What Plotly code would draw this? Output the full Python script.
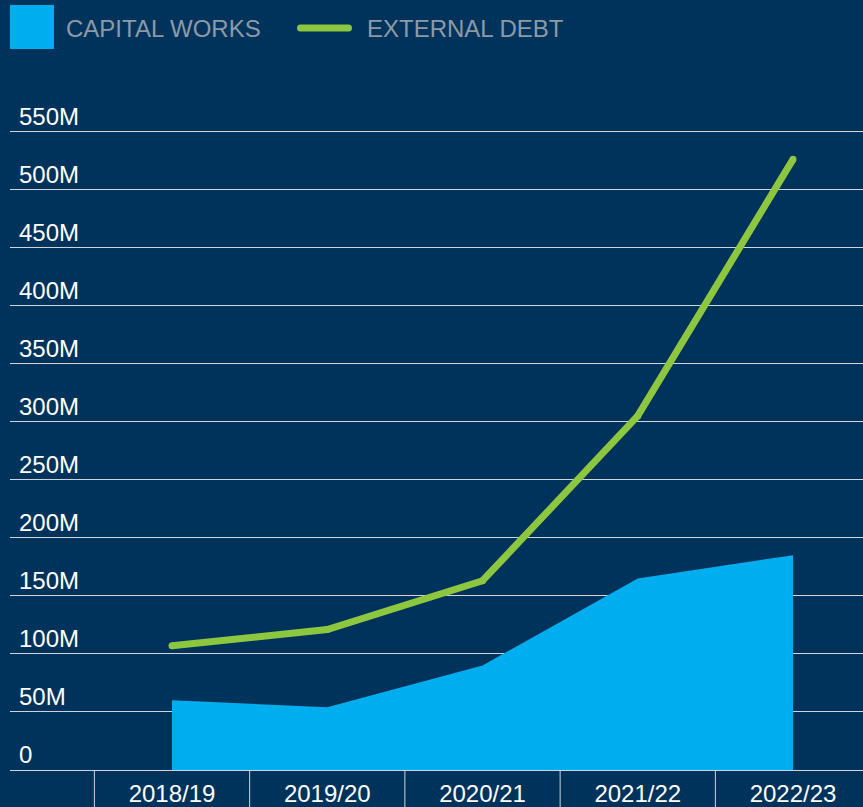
import plotly.graph_objects as go

# ---- data ----
categories = ["2018/19", "2019/20", "2020/21", "2021/22", "2022/23"]
capital_works = [60, 54, 90, 165, 185]        # millions
external_debt = [107, 121, 163, 305, 526]     # millions
y_tick_values = [0, 50, 100, 150, 200, 250, 300, 350, 400, 450, 500, 550]
y_tick_labels = ["0", "50M", "100M", "150M", "200M", "250M", "300M",
                 "350M", "400M", "450M", "500M", "550M"]
legend_names = ["CAPITAL WORKS", "EXTERNAL DEBT"]

# ---- style ----
BG = "#00335B"
BLUE = "#00AEEF"
GREEN = "#8DC63F"
GRID = "#CCD4DD"
LEGEND_TXT = "#8C9AA8"
FONT = "Liberation Sans, Arial, sans-serif"

W, H = 863, 807
ML, MR, MT, MB = 10, 0, 100, 37
PW, PH = W - ML - MR, H - MT - MB


def px(x):
    return (x - ML) / PW


def py(y):
    return (H - MB - y) / PH


fig = go.Figure()
fig.add_trace(go.Scatter(
    x=categories, y=capital_works, mode="lines", fill="tozeroy",
    line=dict(width=0, color=BLUE), fillcolor=BLUE,
    name=legend_names[0], hoverinfo="skip", showlegend=False))
fig.add_trace(go.Scatter(
    x=categories, y=external_debt, mode="lines+markers",
    line=dict(width=7, color=GREEN), marker=dict(size=7, color=GREEN),
    name=legend_names[1], hoverinfo="skip", showlegend=False))

shapes = []
# category separators below the baseline
for i in range(len(categories)):
    shapes.append(dict(type="line", xref="x", yref="paper",
                       x0=i - 0.5, x1=i - 0.5, y0=0, y1=-MB / PH,
                       line=dict(color=GRID, width=1)))

# custom legend: blue square
shapes.append(dict(type="rect", xref="paper", yref="paper",
                   x0=px(10), x1=px(54), y0=py(49), y1=py(5),
                   fillcolor=BLUE, line=dict(width=0)))
# green rounded line sample
x0, x1, yt, yb, r = 297, 352, 24.5, 31.5, 3.5
ym = (yt + yb) / 2
path = (f"M {px(x0 + r)},{py(yt)} L {px(x1 - r)},{py(yt)} "
        f"Q {px(x1)},{py(yt)} {px(x1)},{py(ym)} "
        f"Q {px(x1)},{py(yb)} {px(x1 - r)},{py(yb)} "
        f"L {px(x0 + r)},{py(yb)} "
        f"Q {px(x0)},{py(yb)} {px(x0)},{py(ym)} "
        f"Q {px(x0)},{py(yt)} {px(x0 + r)},{py(yt)} Z")
shapes.append(dict(type="path", xref="paper", yref="paper", path=path,
                   fillcolor=GREEN, line=dict(width=0)))

annotations = []
for v, lab in zip(y_tick_values, y_tick_labels):
    annotations.append(dict(x=0, y=v, xref="paper", yref="y", text=lab,
                            showarrow=False, xanchor="left", yanchor="bottom",
                            xshift=7, yshift=0,
                            font=dict(family=FONT, size=24, color="white")))
annotations.append(dict(x=px(64), y=py(28), xref="paper", yref="paper",
                        text=legend_names[0], showarrow=False,
                        xanchor="left", yanchor="middle",
                        font=dict(family=FONT, size=24, color=LEGEND_TXT)))
annotations.append(dict(x=px(365), y=py(28), xref="paper", yref="paper",
                        text=legend_names[1], showarrow=False,
                        xanchor="left", yanchor="middle",
                        font=dict(family=FONT, size=24, color=LEGEND_TXT)))

# x range so that category centres land at 172 + 155.25*i px
c0, step = 172.0, 155.25
xr = [(ML - c0) / step, (W - MR - c0) / step]
yr = [0, (H - MB - MT) / ((770 - 131.5) / 550)]

fig.update_layout(
    width=W, height=H,
    margin=dict(l=ML, r=MR, t=MT, b=MB, pad=0),
    paper_bgcolor=BG, plot_bgcolor=BG,
    showlegend=False,
    hovermode=False,
    shapes=shapes,
    annotations=annotations,
    xaxis=dict(type="category", range=xr, showgrid=False, zeroline=False,
               showline=False, ticks="", ticklabelstandoff=7,
               tickfont=dict(family=FONT, size=24, color="white"),
               fixedrange=True),
    yaxis=dict(range=yr, tickvals=y_tick_values, showticklabels=False,
               showgrid=True, gridcolor=GRID, gridwidth=1,
               zeroline=True, zerolinecolor=GRID, zerolinewidth=1,
               showline=False, ticks="", fixedrange=True),
)

fig.write_html(
    "out.html",
    config={"displayModeBar": False},
    post_script=("document.body.style.margin='0';"
                 "document.body.style.padding='0';"
                 "document.body.style.overflow='hidden';"
                 "document.body.style.background='" + BG + "';"),
)
